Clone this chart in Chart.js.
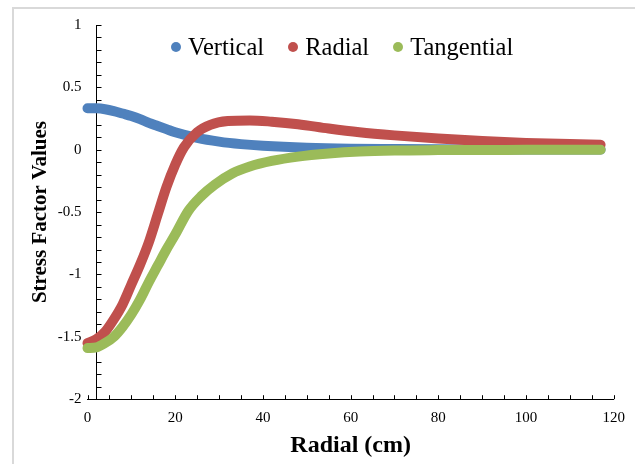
<!DOCTYPE html>
<html lang="en">
<head>
<meta charset="UTF-8">
<title>Stress Factor Values</title>
<script src="https://cdn.jsdelivr.net/npm/chart.js"></script>
<style>
  html, body { margin: 0; padding: 0; background: #fff; overflow: hidden; }
  #frame { position: absolute; left: 12px; top: 7px; width: 700px; height: 500px; border-left: 2px solid #d9d9d9; border-top: 2px solid #d9d9d9; }
  #chart { position: absolute; left: 0; top: 0; }
  #legend { position: absolute; left: 171px; top: 33px; display: flex; align-items: center;
            font-family: 'Liberation Serif', 'Times New Roman', serif; font-size: 24.5px; line-height: 27px; color: #000; }
  #legend .item { display: flex; align-items: center; margin-right: 24px; }
  #legend .dot { width: 10px; height: 10px; border-radius: 50%; margin-right: 7px; }
</style>
</head>
<body>
<div id="frame"></div>
<canvas id="chart" width="635" height="464"></canvas>
<div id="legend"></div>
<script>
// values
const verticalX = [0, 2, 4, 6, 8, 10, 12, 14, 16, 18, 20, 25, 30, 35, 40, 50, 60, 70, 80, 90, 100, 117];
const verticalY = [0.333, 0.332, 0.325, 0.31, 0.29, 0.27, 0.245, 0.215, 0.19, 0.165, 0.14, 0.095, 0.065, 0.045, 0.032, 0.016, 0.008, 0.005, 0.003, 0.002, 0.001, 0.001];

const radialX = [0, 2, 4, 6, 8, 10, 12, 14, 16, 18, 20, 22, 25, 28, 32, 37, 42, 48, 55, 62, 70, 80, 90, 100, 110, 117];
const radialY = [-1.55, -1.52, -1.46, -1.36, -1.24, -1.08, -0.92, -0.74, -0.52, -0.3, -0.12, 0.02, 0.14, 0.2, 0.23, 0.235, 0.225, 0.205, 0.17, 0.14, 0.115, 0.09, 0.07, 0.055, 0.045, 0.04];

const tangentialX = [0, 2, 4, 6, 8, 10, 12, 14, 16, 18, 20, 23, 26, 29, 33, 37, 42, 48, 55, 62, 70, 80, 90, 100, 117];
const tangentialY = [-1.59, -1.585, -1.55, -1.5, -1.42, -1.32, -1.2, -1.06, -0.93, -0.8, -0.68, -0.49, -0.37, -0.28, -0.19, -0.135, -0.09, -0.055, -0.03, -0.014, -0.006, -0.003, -0.002, -0.001, 0];

const seriesNames = ['Vertical', 'Radial', 'Tangential'];
const seriesColors = ['#4F81BD', '#C0504D', '#9BBB59'];

const xMin = 0, xMax = 120, xStep = 5, xLabelEvery = 20;
const yMin = -2, yMax = 1, yStep = 0.1, yLabelEvery = 0.5;
const yAxisCross = 2;   // vertical axis sits at x = 2

function toPoints(xs, ys) {
  return xs.map((x, i) => ({ x: x, y: ys[i] }));
}

const allX = [verticalX, radialX, tangentialX];
const allY = [verticalY, radialY, tangentialY];

// legend as html, inside the plot like the original
const legendEl = document.getElementById('legend');
seriesNames.forEach((name, i) => {
  const item = document.createElement('span');
  item.className = 'item';
  item.innerHTML = '<span class="dot" style="background:' + seriesColors[i] + '"></span>' + name;
  legendEl.appendChild(item);
});

// axis line and inward tick marks, placed through the scales
const axisMarks = {
  id: 'axisMarks',
  beforeDatasetsDraw(chart) {
    const { ctx } = chart;
    const x = chart.scales.x, y = chart.scales.y;
    const ax = Math.round(x.getPixelForValue(yAxisCross)) + 0.5;
    ctx.save();
    ctx.strokeStyle = '#000';
    ctx.lineWidth = 1;
    ctx.beginPath();
    ctx.moveTo(ax, y.top);
    ctx.lineTo(ax, y.bottom);
    y.ticks.forEach(t => {
      const py = Math.round(y.getPixelForValue(t.value)) + 0.5;
      ctx.moveTo(ax, py);
      ctx.lineTo(ax + 5, py);
    });
    x.ticks.forEach(t => {
      const px = Math.round(x.getPixelForValue(t.value)) + 0.5;
      ctx.moveTo(px, y.bottom);
      ctx.lineTo(px, y.bottom - 4);
    });
    ctx.stroke();
    ctx.restore();
  }
};

Chart.defaults.font.family = "'Liberation Serif', 'Times New Roman', serif";
Chart.defaults.color = '#000';

new Chart(document.getElementById('chart'), {
  type: 'scatter',
  data: {
    datasets: seriesNames.map((name, i) => ({
      label: name,
      data: toPoints(allX[i], allY[i]),
      showLine: true,
      borderColor: seriesColors[i],
      backgroundColor: seriesColors[i],
      borderWidth: 10,
      borderCapStyle: 'round',
      borderJoinStyle: 'round',
      cubicInterpolationMode: 'monotone',
      pointRadius: 0,
      pointHoverRadius: 0,
      clip: false,
      order: 3 - i
    }))
  },
  options: {
    responsive: false,
    animation: false,
    layout: { padding: { left: 12, top: 25, right: 13, bottom: 0 } },
    scales: {
      x: {
        type: 'linear',
        min: xMin, max: xMax,
        grid: { display: false, drawTicks: false },
        border: { display: true, color: '#000', width: 1 },
        ticks: {
          stepSize: xStep,
          autoSkip: false,
          maxRotation: 0,
          padding: 10,
          font: { size: 15 },
          callback: v => (v % xLabelEvery === 0 ? String(v) : '')
        },
        title: {
          display: true,
          text: 'Radial (cm)',
          font: { size: 24, weight: 'bold' },
          padding: { top: -6, bottom: 4 }
        }
      },
      y: {
        type: 'linear',
        position: 'left',
        min: yMin, max: yMax,
        grid: { display: false, drawTicks: false },
        border: { display: false },
        afterFit: s => { s.width = 75.5; },
        ticks: {
          stepSize: yStep,
          autoSkip: false,
          padding: 6,
          font: { size: 15 },
          callback: v => {
            const r = Math.round(v * 10) / 10;
            return Math.abs(r / yLabelEvery - Math.round(r / yLabelEvery)) < 1e-6 ? String(r) : '';
          }
        },
        title: {
          display: true,
          text: 'Stress Factor Values',
          font: { size: 21, weight: 'bold' },
          padding: { top: 16, bottom: 0 }
        }
      }
    },
    plugins: {
      tooltip: { enabled: false },
      legend: { display: false }
    }
  },
  plugins: [axisMarks]
});
</script>
</body>
</html>
